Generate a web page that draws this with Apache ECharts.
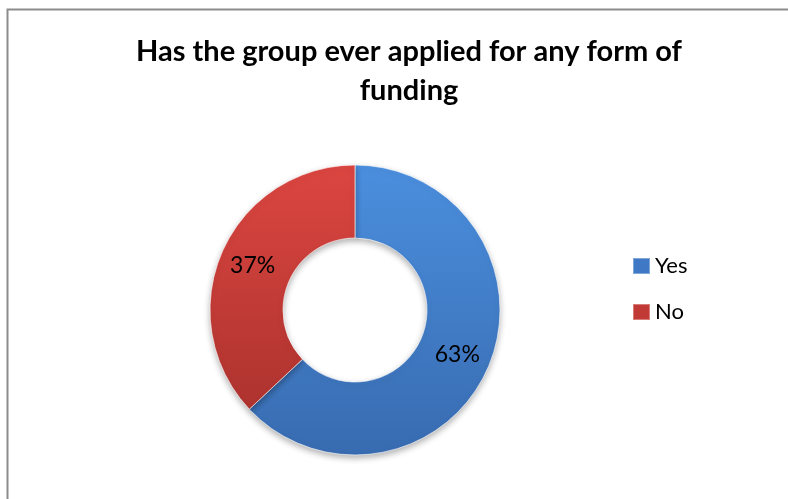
<!DOCTYPE html>
<html>
<head>
<meta charset="utf-8">
<script src="https://cdn.jsdelivr.net/npm/echarts@6/dist/echarts.min.js"></script>
<style>
  html, body { margin: 0; padding: 0; background: #fff; }
  #chart { width: 788px; height: 499px; }
</style>
</head>
<body>
<div id="chart"></div>
<script>
// Survey answers and their shares (percent)
const categories = ['Yes', 'No'];
const shares = [63, 37];
const titleText = 'Has the group ever applied for any form of\nfunding';

const fillTop = ['#4b8fde', '#dc4641'];
const fillBottom = ['#386bb0', '#a52f2b'];
const legendFill = ['#3f79c6', '#c23a35'];

const chart = echarts.init(document.getElementById('chart'));

const data = categories.map((name, i) => ({
  name: name,
  value: shares[i],
  itemStyle: {
    color: {
      type: 'linear', x: 0, y: 165, x2: 0, y2: 456, global: true,
      colorStops: [
        { offset: 0, color: fillTop[i] },
        { offset: 1, color: fillBottom[i] }
      ]
    }
  }
}));

chart.setOption({
  backgroundColor: '#ffffff',
  graphic: [{
    type: 'rect',
    shape: { x: 7.5, y: 9.5, width: 800, height: 520 },
    style: { fill: 'none', stroke: '#8c8c8c', lineWidth: 2 },
    silent: true
  }],
  title: {
    text: titleText,
    left: 404,
    top: 27,
    textAlign: 'center',
    textStyle: {
      fontFamily: 'Lato, "Open Sans", sans-serif',
      fontWeight: 'bold',
      fontSize: 29,
      lineHeight: 39,
      color: '#000'
    }
  },
  legend: {
    orient: 'vertical',
    left: 632,
    top: 255,
    padding: 0,
    itemWidth: 17,
    itemHeight: 16,
    itemGap: 24,
    icon: 'rect',
    textStyle: {
      fontFamily: 'Lato, "Open Sans", sans-serif',
      fontSize: 22,
      color: '#000'
    },
    data: categories.map((name, i) => ({
      name: name,
      itemStyle: { color: legendFill[i] }
    }))
  },
  series: [{
    type: 'pie',
    center: [355, 310],
    radius: [72, 145],
    startAngle: 90,
    clockwise: true,
    avoidLabelOverlap: false,
    label: {
      show: true,
      position: 'inside',
      formatter: '{c}%',
      fontFamily: 'Lato, "Open Sans", sans-serif',
      fontSize: 23,
      color: '#000'
    },
    labelLine: { show: false },
    itemStyle: {
      borderColor: 'rgba(255,255,255,0.35)',
      borderWidth: 1,
      shadowBlur: 6,
      shadowOffsetY: 3,
      shadowColor: 'rgba(0,0,0,0.3)'
    },
    emphasis: { disabled: true },
    data: data
  }]
});
</script>
</body>
</html>
